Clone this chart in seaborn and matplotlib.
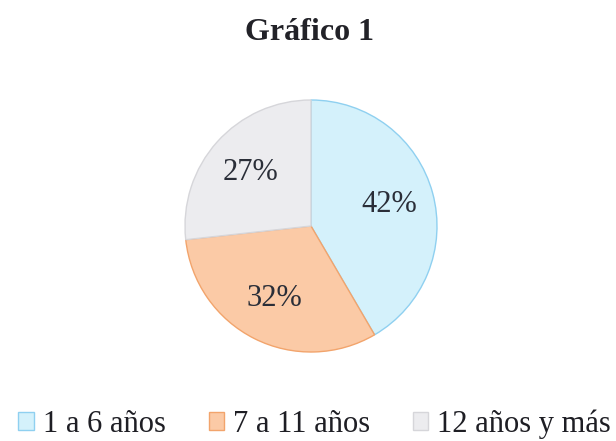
import matplotlib.pyplot as plt
import seaborn as sns

# Datos del gráfico
categorias = ["1 a 6 años", "7 a 11 años", "12 años y más"]
porcentajes = [42, 32, 27]
colores = ["#d4f1fb", "#fbcaa6", "#ececef"]
bordes = ["#8fd0f0", "#f2a46c", "#d6d6da"]
titulo = "Gráfico 1"

sns.set_theme(style="white")
plt.rcParams['font.family'] = ['Liberation Serif', 'DejaVu Serif']

fig = plt.figure(figsize=(6.16, 4.41), dpi=100)
ax = fig.add_axes([185 / 616, 89 / 441, 252 / 616, 252 / 441])

total = sum(porcentajes)
wedges, textos, autotextos = ax.pie(
    porcentajes,
    colors=colores,
    startangle=90,
    counterclock=False,
    pctdistance=0.64,
    autopct=lambda p: f"{p * total / 100:.0f}%",
    wedgeprops=dict(linewidth=1.0),
    textprops=dict(fontsize=22, color="#2a2e38"),
)
for w, b in zip(wedges, bordes):
    w.set_edgecolor(b)
    w.set_clip_on(False)

ax.set_xlim(-1.0, 1.0)
ax.set_ylim(-1.0, 1.0)
ax.set_aspect("equal")
ax.axis("off")

fig.text(0.502, 1 - 33 / 441, titulo, ha="center", va="center",
         fontsize=23, fontweight="bold", color="#222228")

handles = [plt.Rectangle((0, 0), 1, 1, facecolor=c, edgecolor=b, linewidth=1)
           for c, b in zip(colores, bordes)]
fig.legend(handles, categorias, loc="center", bbox_to_anchor=(0.511, 1 - 424 / 441),
           ncol=3, frameon=False, fontsize=22, handlelength=0.5, handleheight=0.5,
           handletextpad=0.3, columnspacing=1.4, labelcolor="#1e1e24",
           borderpad=0, borderaxespad=0)

fig.savefig("out.png", dpi=100, facecolor="white")
